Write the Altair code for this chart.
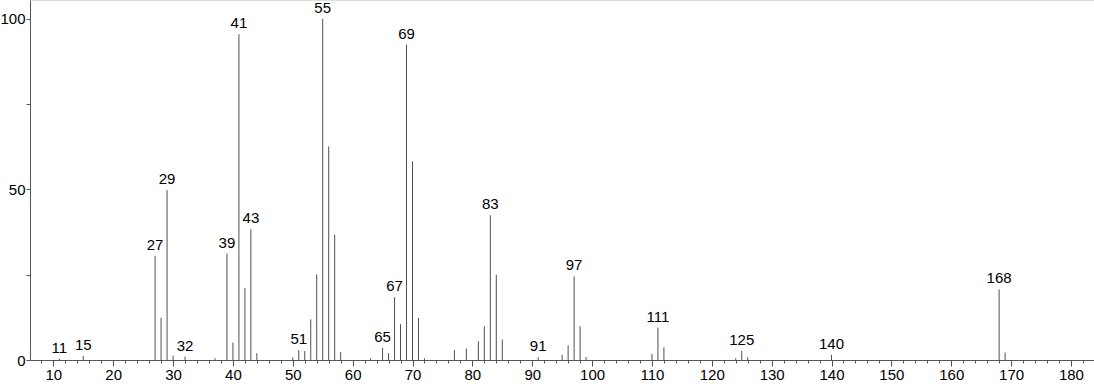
import altair as alt
import pandas as pd

mz = [11, 15, 27, 28, 29, 30, 32, 37, 39, 40, 41, 42, 43, 44, 50, 51, 52, 53, 54, 55,
      56, 57, 58, 63, 65, 66, 67, 68, 69, 70, 71, 72, 77, 79, 81, 82, 83, 84, 85, 91,
      95, 96, 97, 98, 99, 110, 111, 112, 124, 125, 126, 140, 168, 169]
intensity = [0.4, 1.2, 30.5, 12.4, 49.8, 1.3, 1.0, 0.5, 31.2, 5.1, 95.5, 21.1, 38.3, 2.0,
             0.8, 2.9, 2.6, 11.9, 25.1, 100, 62.6, 36.8, 2.3, 0.5, 3.5, 2.0, 18.4, 10.5,
             92.4, 58.2, 12.3, 0.5, 2.9, 3.4, 5.5, 9.9, 42.4, 25.0, 6.0, 0.8, 1.5, 4.3,
             24.5, 9.9, 0.9, 1.8, 9.5, 3.7, 0.5, 2.7, 0.8, 1.5, 20.7, 2.2]
labelled = [11, 15, 27, 29, 32, 39, 41, 43, 51, 55, 65, 67, 69, 83, 91, 97, 111, 125, 140, 168]

major_ticks = list(range(10, 181, 10))
minor_ticks = list(range(8, 184, 2))
y_ticks = [0, 25, 50, 75, 100]

df = pd.DataFrame({"mz": mz, "intensity": intensity})
df["label"] = [str(m) if m in labelled else "" for m in mz]

xscale = alt.Scale(domain=[6.1, 183.85], nice=False, zero=False)
yscale = alt.Scale(domain=[0, 105.5], nice=False)

FONT = "Liberation Sans"
AXIS_COLOR = "#555555"

x_major = alt.X("mz:Q", scale=xscale, axis=alt.Axis(
    values=major_ticks, title=None, grid=False, orient="bottom",
    tickSize=6, tickColor=AXIS_COLOR, domainColor=AXIS_COLOR,
    labelFont=FONT, labelFontSize=15, labelColor="black", labelPadding=1,
    format="d", labelFlush=False))
x_minor = alt.X("mz:Q", scale=xscale, axis=alt.Axis(
    values=minor_ticks, title=None, grid=False, orient="bottom",
    tickSize=3, tickColor=AXIS_COLOR, domain=False, labels=False))

y_axis = alt.Y("intensity:Q", scale=yscale, axis=alt.Axis(
    values=y_ticks, title=None, grid=False,
    tickSize=4, tickColor=AXIS_COLOR, domainColor=AXIS_COLOR,
    labelFont=FONT, labelFontSize=15, labelColor="black", labelPadding=1,
    labelExpr="datum.value % 50 == 0 ? datum.label : ''"))

base = alt.Chart(df)

sticks = base.mark_rule(color="#505050", strokeWidth=1).encode(
    x=x_major, y=y_axis, y2=alt.datum(0))

minor = base.mark_rule(opacity=0).encode(x=x_minor, y=y_axis)

labels = base.transform_filter("datum.label != ''").mark_text(
    baseline="bottom", dy=-3, font=FONT, fontSize=15, color="black").encode(
    x=alt.X("mz:Q", scale=xscale, axis=None),
    y=y_axis,
    text="label:N")

chart = alt.layer(sticks, minor, labels).resolve_axis(x="independent").properties(
    width=1064, height=360,
    autosize=alt.AutoSizeParams(type="none"),
    padding={"left": 30, "top": 0, "right": 0, "bottom": 24},
).configure_view(stroke=None).configure(background="white")

chart.save("out.html", embed_options={"renderer": "svg", "actions": False})
